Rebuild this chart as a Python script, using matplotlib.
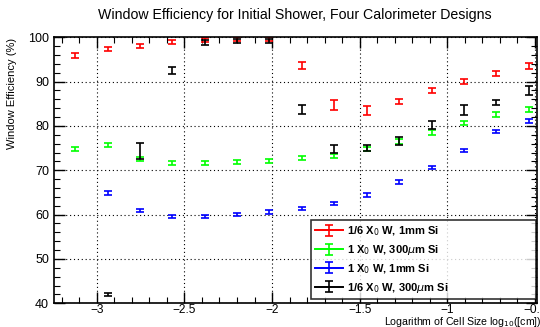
import numpy as np
from matplotlib import pyplot as plt
from matplotlib.ticker import MultipleLocator
from matplotlib.lines import Line2D
from matplotlib.legend_handler import HandlerTuple

plt.rcParams['font.family'] = ['Liberation Sans', 'DejaVu Sans']

# log10 of cell size
x_all = [-3.124, -2.937, -2.753, -2.568, -2.385, -2.200, -2.015, -1.829,
         -1.644, -1.459, -1.274, -1.090, -0.905, -0.720, -0.537]

# 1/6 X0 W, 1mm Si
red_y = [95.9, 97.3, 98.1, 98.9, 99.4, 99.6, 99.6, 93.7, 84.7, 83.4, 85.5, 88.0, 90.1, 91.9, 93.6]
red_e = [0.5, 0.5, 0.45, 0.45, 0.45, 0.4, 0.4, 0.8, 1.1, 1.0, 0.6, 0.6, 0.6, 0.55, 0.65]

# 1 X0 W, 300um Si
green_y = [74.7, 75.8, 72.5, 71.6, 71.6, 71.8, 72.2, 72.7, 73.2, 74.8, 76.4, 78.5, 80.7, 82.5, 83.8]
green_e = [0.45, 0.45, 0.45, 0.45, 0.45, 0.45, 0.45, 0.45, 0.5, 0.55, 0.55, 0.55, 0.5, 0.55, 0.55]

# 1 X0 W, 1mm Si (starts at second cell size)
blue_y = [64.9, 60.9, 59.6, 59.6, 60.0, 60.6, 61.4, 62.5, 64.4, 67.3, 70.6, 74.5, 78.7, 81.1]
blue_e = [0.4, 0.4, 0.4, 0.4, 0.35, 0.4, 0.4, 0.4, 0.4, 0.4, 0.4, 0.4, 0.4, 0.5]

# 1/6 X0 W, 300um Si (starts at second cell size)
black_y = [42.0, 74.35, 92.5, 98.8, 99.2, 99.2, 83.7, 74.7, 75.0, 76.6, 80.2, 83.6, 85.3, 88.0]
black_e = [0.4, 1.85, 0.8, 0.6, 0.5, 0.5, 1.0, 0.9, 0.6, 0.8, 0.9, 1.1, 0.6, 1.1]

fig = plt.figure(figsize=(5.4, 3.27), dpi=100)
ax = fig.add_axes([0.1, 0.0725, 0.894, 0.8135])

series = [
    (x_all, red_y, red_e, '#ff0000', '1/6 X$_0$ W, 1mm Si'),
    (x_all, green_y, green_e, '#00ff00', '1 X$_0$ W, 300$\\mu$m Si'),
    (x_all[1:], blue_y, blue_e, '#0000ff', '1 X$_0$ W, 1mm Si'),
    (x_all[1:], black_y, black_e, '#000000', '1/6 X$_0$ W, 300$\\mu$m Si'),
]
handles = []
labels = []
for xs, ys, es, col, lab in series:
    eb = ax.errorbar(xs, ys, yerr=es, fmt='none', ecolor=col, elinewidth=1.2,
                     capsize=2.6, capthick=1.2)
    handles.append((Line2D([], [], color=col, lw=1.4), eb))
    labels.append(lab)

ax.set_xlim(-3.244, -0.49)
ax.set_ylim(40, 100)
ax.xaxis.set_major_locator(MultipleLocator(0.5))
ax.xaxis.set_minor_locator(MultipleLocator(0.1))
ax.yaxis.set_major_locator(MultipleLocator(10))
ax.yaxis.set_minor_locator(MultipleLocator(2))
ax.tick_params(which='both', direction='in', top=True, right=True, labelsize=9)
ax.tick_params(which='major', length=8, width=1)
ax.tick_params(which='minor', length=4, width=0.8)
ax.tick_params(axis='x', which='major', pad=0.5, labelsize=8.6)
ax.xaxis.set_major_formatter(plt.FuncFormatter(lambda v, p: ('%g' % v).replace('-', '\u2212')))
ax.grid(True, which='major', color='black', linestyle=(0, (1, 2.5)), linewidth=0.8)
for s in ax.spines.values():
    s.set_linewidth(1.2)

fig.text(0.546, 0.954, 'Window Efficiency for Initial Shower, Four Calorimeter Designs',
         ha='center', va='center', fontsize=10.2)
fig.text(0.022, 0.885, 'Window Efficiency (%)', rotation=90, ha='center', va='top', fontsize=8)
fig.text(1.002, 0.006, 'Logarithm of Cell Size log$_{10}$([cm])', ha='right', va='baseline',
         fontsize=7.6)

leg = ax.legend(handles, labels, handler_map={tuple: HandlerTuple(ndivide=1, pad=0)},
                loc='lower left', bbox_to_anchor=(0.532, 0.016, 0.466, 0.293), mode='expand',
                borderaxespad=0, frameon=True, fancybox=False, edgecolor='black',
                prop={'weight': 'bold', 'size': 8}, handlelength=2.5, handletextpad=0.4,
                borderpad=0.4, labelspacing=0.45)
leg.get_frame().set_linewidth(1.2)

fig.savefig('out.png', dpi=100)
